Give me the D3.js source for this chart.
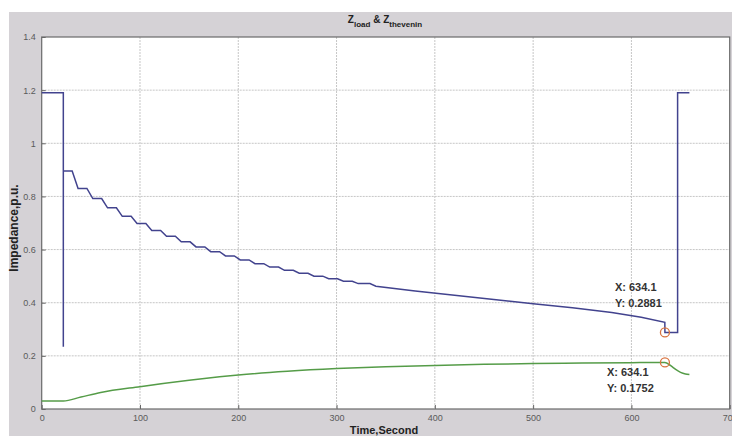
<!DOCTYPE html>
<html>
<head>
<meta charset="utf-8">
<script src="https://cdn.jsdelivr.net/npm/d3@7"></script>
<style>
  html, body { margin: 0; padding: 0; background: #fff; }
  svg { display: block; }
</style>
</head>
<body>
<div id="chart"></div>
<script>
// x / y ticks
const xTicks = [0, 100, 200, 300, 400, 500, 600, 700];
const yTicks = [0, 0.2, 0.4, 0.6, 0.8, 1, 1.2, 1.4];

// Z_load: start section, staircase, smooth tail, end section
const loadHeadT = [0, 22, 22];
const loadHeadV = [1.19, 1.19, 0.234];
const stepTimes = [22, 37, 52, 67, 82, 97, 112, 127, 142, 157, 172, 187, 202, 217, 232, 247, 262, 277, 292, 307, 322];
const stepLevels = [0.896, 0.830, 0.792, 0.757, 0.725, 0.698, 0.672, 0.650, 0.629, 0.610, 0.592, 0.576, 0.561, 0.547, 0.534, 0.522, 0.511, 0.500, 0.490, 0.481, 0.472];
const loadTailT = [340, 380, 420, 460, 500, 540, 580, 610, 634];
const loadTailV = [0.462, 0.444, 0.428, 0.412, 0.396, 0.381, 0.363, 0.345, 0.326];
const loadEndT = [634.1, 647, 647, 659];
const loadEndV = [0.2881, 0.2881, 1.19, 1.19];

// Z_thevenin
const thevT = [0, 22, 40, 60, 100, 150, 181, 200, 250, 300, 350, 400, 450, 500, 550, 600, 634.1, 640, 645, 650, 655, 659];
const thevV = [0.03, 0.03, 0.045, 0.062, 0.084, 0.108, 0.121, 0.128, 0.142, 0.152, 0.159, 0.164, 0.168, 0.171, 0.173, 0.1745, 0.1752, 0.163, 0.149, 0.138, 0.132, 0.13];

// data tips
const tips = [
    {x: 634.1, y: 0.2881, dx: -50, dy: -41},
    {x: 634.1, y: 0.1752, dx: -58, dy: 14}
];

const W = 732, H = 436;
const margin = {top: 37, right: 2.3, bottom: 27, left: 41.7};
const width = W - margin.left - margin.right;
const height = H - margin.top - margin.bottom;
const font = "Liberation Sans, Arial, sans-serif";

const svg = d3.select("#chart")
    .append("svg")
    .attr("width", W)
    .attr("height", H);

// grey figure background
svg.append("rect")
    .attr("x", 9).attr("y", 12)
    .attr("width", W - 9).attr("height", H - 12)
    .attr("fill", "#d5d2d6");

const g = svg.append("g")
    .attr("transform", `translate(${margin.left},${margin.top})`);

const x = d3.scaleLinear().domain([0, 700]).range([0, width]);
const y = d3.scaleLinear().domain([0, 1.4]).range([height, 0]);

g.append("rect")
    .attr("width", width).attr("height", height)
    .attr("fill", "#fff");

// grid
g.append("g")
    .selectAll("line")
    .data(xTicks.slice(1, -1))
    .enter().append("line")
    .attr("x1", d => x(d)).attr("x2", d => x(d))
    .attr("y1", 0).attr("y2", height)
    .attr("stroke", "#c6c6c6")
    .attr("stroke-dasharray", "2,1");

g.append("g")
    .selectAll("line")
    .data(yTicks.slice(1, -1))
    .enter().append("line")
    .attr("x1", 0).attr("x2", width)
    .attr("y1", d => y(d)).attr("y2", d => y(d))
    .attr("stroke", "#c6c6c6")
    .attr("stroke-dasharray", "2,1");

// axes
const xAxis = g.append("g")
    .attr("transform", `translate(0,${height})`)
    .call(d3.axisBottom(x).tickValues(xTicks).tickFormat(d3.format("d")).tickSizeInner(-4).tickSizeOuter(0).tickPadding(6));
const yAxis = g.append("g")
    .call(d3.axisLeft(y).tickValues(yTicks).tickFormat(d => d3.format("~g")(d)).tickSizeInner(-4).tickSizeOuter(0).tickPadding(6));

[xAxis, yAxis].forEach(a => {
    a.select(".domain").remove();
    a.selectAll("line").attr("stroke", "#666");
    a.selectAll("text")
        .attr("fill", "#5a5a5a")
        .style("font-family", font)
        .style("font-size", "9px");
});

g.append("rect")
    .attr("width", width).attr("height", height)
    .attr("fill", "none")
    .attr("stroke", "#6a6a6a")
    .attr("stroke-width", 1.2);

// build Z_load points
const loadPts = [];
loadHeadT.forEach((t, i) => loadPts.push([t, loadHeadV[i]]));
stepTimes.forEach((t, i) => {
    loadPts.push([t, stepLevels[i]]);
    const next = i + 1 < stepTimes.length ? stepTimes[i + 1] : loadTailT[0];
    loadPts.push([next - 6, stepLevels[i]]);
});
loadTailT.forEach((t, i) => loadPts.push([t, loadTailV[i]]));
loadEndT.forEach((t, i) => loadPts.push([t, loadEndV[i]]));

const thevPts = thevT.map((t, i) => [t, thevV[i]]);

const line = d3.line()
    .x(d => x(d[0]))
    .y(d => y(d[1]));

g.append("path")
    .datum(thevPts)
    .attr("d", line.curve(d3.curveMonotoneX))
    .attr("fill", "none")
    .attr("stroke", "#559c48")
    .attr("stroke-width", 1.5);

g.append("path")
    .datum(loadPts)
    .attr("d", line.curve(d3.curveLinear))
    .attr("fill", "none")
    .attr("stroke", "#42438e")
    .attr("stroke-width", 1.5);

// data tips
tips.forEach(tp => {
    g.append("circle")
        .attr("cx", x(tp.x)).attr("cy", y(tp.y))
        .attr("r", 4.5)
        .attr("fill", "none")
        .attr("stroke", "#d9733f")
        .attr("stroke-width", 1.3);
    const t = g.append("text")
        .attr("x", x(tp.x) + tp.dx)
        .attr("y", y(tp.y) + tp.dy)
        .style("font-family", font)
        .style("font-size", "11px")
        .style("font-weight", "bold")
        .attr("fill", "#333");
    t.append("tspan").text(`X: ${tp.x}`);
    t.append("tspan")
        .attr("x", x(tp.x) + tp.dx)
        .attr("dy", 16)
        .text(`Y: ${tp.y}`);
});

// title
const title = svg.append("text")
    .attr("x", 385).attr("y", 23)
    .attr("text-anchor", "middle")
    .style("font-family", font)
    .style("font-weight", "bold")
    .style("font-size", "10px")
    .attr("fill", "#222");
title.append("tspan").text("Z");
title.append("tspan").attr("dy", 4).style("font-size", "8px").text("load");
title.append("tspan").attr("dy", -4).text(" & Z");
title.append("tspan").attr("dy", 4).style("font-size", "8px").text("thevenin");

svg.append("text")
    .attr("x", 384).attr("y", 434)
    .attr("text-anchor", "middle")
    .style("font-family", font)
    .style("font-weight", "bold")
    .style("font-size", "11px")
    .attr("fill", "#222")
    .text("Time,Second");

svg.append("text")
    .attr("transform", "translate(18,228) rotate(-90)")
    .attr("text-anchor", "middle")
    .style("font-family", font)
    .style("font-weight", "bold")
    .style("font-size", "12px")
    .attr("fill", "#222")
    .text("Impedance,p.u.");
</script>
</body>
</html>
